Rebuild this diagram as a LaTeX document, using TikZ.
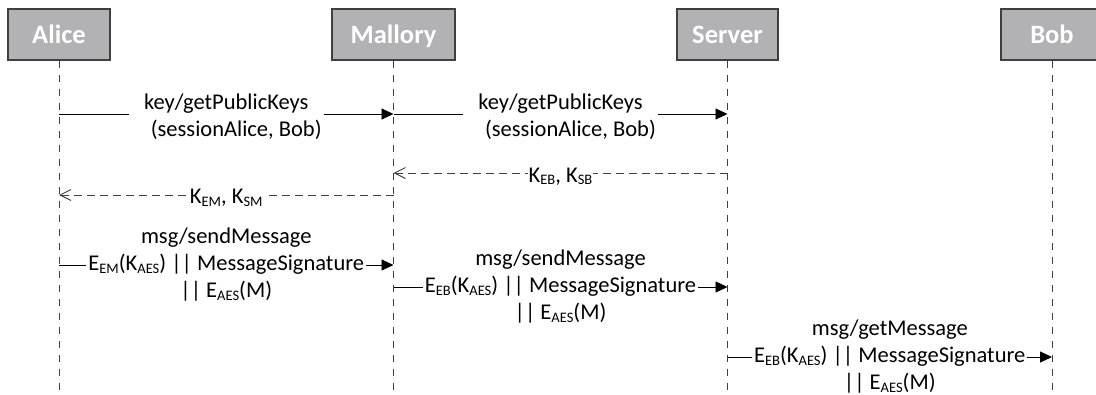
\documentclass[tikz,border=0pt]{standalone}
\usepackage{fontspec}
\setmainfont{Carlito}
\usetikzlibrary{arrows.meta}
\definecolor{boxgray}{RGB}{178,178,180}
\definecolor{linegray}{RGB}{64,64,64}
% lowered, smaller index text
\newcommand\sbs[1]{\raisebox{-2.5pt}{\fontsize{14.5}{14.5}\selectfont #1}}

\begin{document}
\begin{tikzpicture}[x=1pt,y=-1pt,
  actor/.style={draw=linegray, line width=1.1pt, fill=boxgray, text=white,
    font=\fontsize{26.5}{30}\selectfont\bfseries, minimum height=51pt,
    text height=17pt, text depth=0pt, inner sep=0pt},
  lifeline/.style={draw=linegray, line width=0.9pt, dash pattern=on 7pt off 7pt},
  call/.style={draw=black, line width=0.9pt, -{Triangle[length=12pt,width=11pt]}},
  reply/.style={draw=linegray, line width=0.9pt, dash pattern=on 8pt off 5pt,
    -{Straight Barb[length=11pt,width=11pt,line width=0.9pt]}},
  msg/.style={fill=white, text=black, font=\fontsize{22.5}{27}\selectfont,
    align=center, inner xsep=2pt, inner ysep=1pt},
  keys/.style={msg, inner xsep=1pt, anchor=base},
]
\useasboundingbox (0,0) rectangle (1096,394);

% participants
\node[actor, minimum width=102pt] (alice)   at (59,34.5)    {Alice};
\node[actor, minimum width=123pt] (mallory) at (393.5,34.5) {Mallory};
\node[actor, minimum width=101pt] (server)  at (727.5,34.5) {Server};
\node[actor, minimum width=102pt] (bob)     at (1052,34.5)  {Bob};

% lifelines
\foreach \p in {alice,mallory,server,bob}{
  \coordinate (\p End) at (\p.south |- 0,394);
  \draw[lifeline] (\p.south) -- (\p End);
}

% message anchor points on the lifelines
\coordinate (m1s) at (alice.south   |- 0,114);
\coordinate (m1e) at (mallory.south |- 0,114);
\coordinate (m2s) at (mallory.south |- 0,114);
\coordinate (m2e) at (server.south  |- 0,114);
\coordinate (m3s) at (server.south  |- 0,173);
\coordinate (m3e) at (mallory.south |- 0,173);
\coordinate (m4s) at (mallory.south |- 0,195);
\coordinate (m4e) at (alice.south   |- 0,195);
\coordinate (m5s) at (alice.south   |- 0,265);
\coordinate (m5e) at (mallory.south |- 0,265);
\coordinate (m6s) at (mallory.south |- 0,287);
\coordinate (m6e) at (server.south  |- 0,287);
\coordinate (m7s) at (server.south  |- 0,357);
\coordinate (m7e) at (bob.south     |- 0,357);

% requests and replies
\draw[call] (m1s) -- node[msg, yshift=-3pt] (l1)
  {key/getPublicKeys\\\hspace*{20pt}(sessionAlice, Bob)} (m1e);
\draw[call] (m2s) -- node[msg, yshift=-3pt] (l2)
  {key/getPublicKeys\\\hspace*{20pt}(sessionAlice, Bob)} (m2e);
\draw[reply] (m3s) -- node[keys, yshift=-9pt] (l3)
  {K\sbs{EB}, K\sbs{SB}} (m3e);
\draw[reply] (m4s) -- node[keys, yshift=-8.5pt] (l4)
  {K\sbs{EM}, K\sbs{SM}} (m4e);
\draw[call] (m5s) -- node[msg] (l5)
  {msg/sendMessage\\E\sbs{EM}(K\sbs{AES}) || MessageSignature\\|| E\sbs{AES}(M)} (m5e);
\draw[call] (m6s) -- node[msg] (l6)
  {msg/sendMessage\\E\sbs{EB}(K\sbs{AES}) || MessageSignature\\|| E\sbs{AES}(M)} (m6e);
\draw[call] (m7s) -- node[msg] (l7)
  {msg/getMessage\\E\sbs{EB}(K\sbs{AES}) || MessageSignature\\|| E\sbs{AES}(M)} (m7e);
\end{tikzpicture}
\end{document}
